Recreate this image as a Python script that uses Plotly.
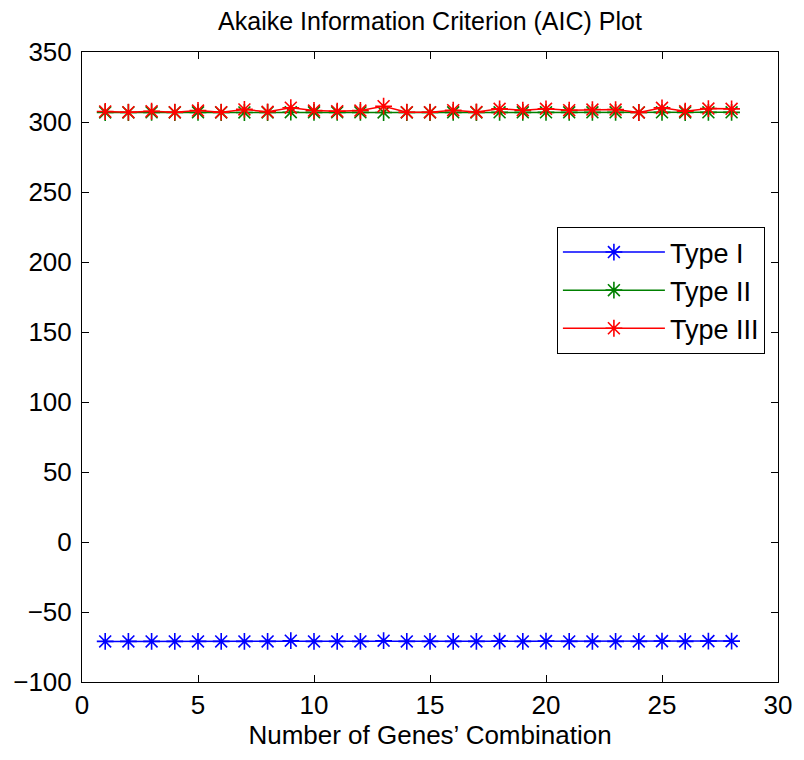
import plotly.graph_objects as go

combos = list(range(1, 29))
type1 = [-71, -71, -71, -71, -71, -71, -71, -71, -70.5, -71, -71, -71, -70.5, -71,
         -71, -71, -71, -70.8, -71, -70.8, -71, -71, -71, -71, -70.8, -71, -70.8, -70.8]
type2 = [306.8, 306.8, 306.9, 306.8, 306.9, 306.8, 306.8, 306.8, 307.0, 306.9, 306.9, 306.9, 306.8, 306.8,
         306.8, 306.9, 306.8, 306.9, 306.9, 306.9, 306.9, 306.9, 306.9, 306.8, 306.9, 306.8, 306.9, 306.9]
type3 = [307.5, 307.0, 307.7, 307.0, 308.2, 307.0, 309.0, 307.3, 310.2, 308.2, 307.7, 308.2, 311.3, 307.0,
         307.0, 308.4, 307.2, 309.4, 308.4, 309.4, 308.4, 308.9, 308.9, 306.8, 310.1, 307.7, 309.6, 309.4]

series = [("Type I", type1, "#0000FF"), ("Type II", type2, "#008000"), ("Type III", type3, "#FF0000")]

FONT = "Liberation Sans, Arial, sans-serif"

fig = go.Figure()
for name, vals, col in series:
    fig.add_trace(go.Scatter(
        x=combos, y=vals, name=name, mode="lines+markers",
        line=dict(color=col, width=1.5),
        marker=dict(symbol="asterisk-open", size=14, color=col, line=dict(color=col, width=1.6)),
    ))

axis_common = dict(
    showgrid=False, zeroline=False, showline=True, linecolor="black", linewidth=1,
    mirror="ticks", ticks="inside", ticklen=7, tickcolor="black",
    tickfont=dict(family=FONT, size=26, color="black"),
)

fig.update_layout(
    width=804, height=760,
    margin=dict(l=82, r=20, t=52, b=78),
    paper_bgcolor="white", plot_bgcolor="white",
    font=dict(family=FONT, size=26, color="black"),
    title=dict(text="Akaike Information Criterion (AIC) Plot", x=0.5, xref="paper",
               y=1 - 21 / 760, yanchor="middle",
               font=dict(family=FONT, size=25, color="black")),
    xaxis=dict(range=[0, 30], tickvals=[0, 5, 10, 15, 20, 25, 30],
               title=dict(text="Number of Genes’ Combination", standoff=1,
                          font=dict(family=FONT, size=26, color="black")),
               **axis_common),
    yaxis=dict(range=[-100, 350], tickvals=list(range(-100, 351, 50)),
               ticklabelstandoff=4, **axis_common),
    legend=dict(x=(561 - 82) / 702, y=(682 - 227) / 630, xanchor="left", yanchor="top",
                bgcolor="white", bordercolor="black", borderwidth=1,
                font=dict(family=FONT, size=27, color="black"),
                itemwidth=102, tracegroupgap=0),
    showlegend=True,
)

fig.write_html("out.html")
